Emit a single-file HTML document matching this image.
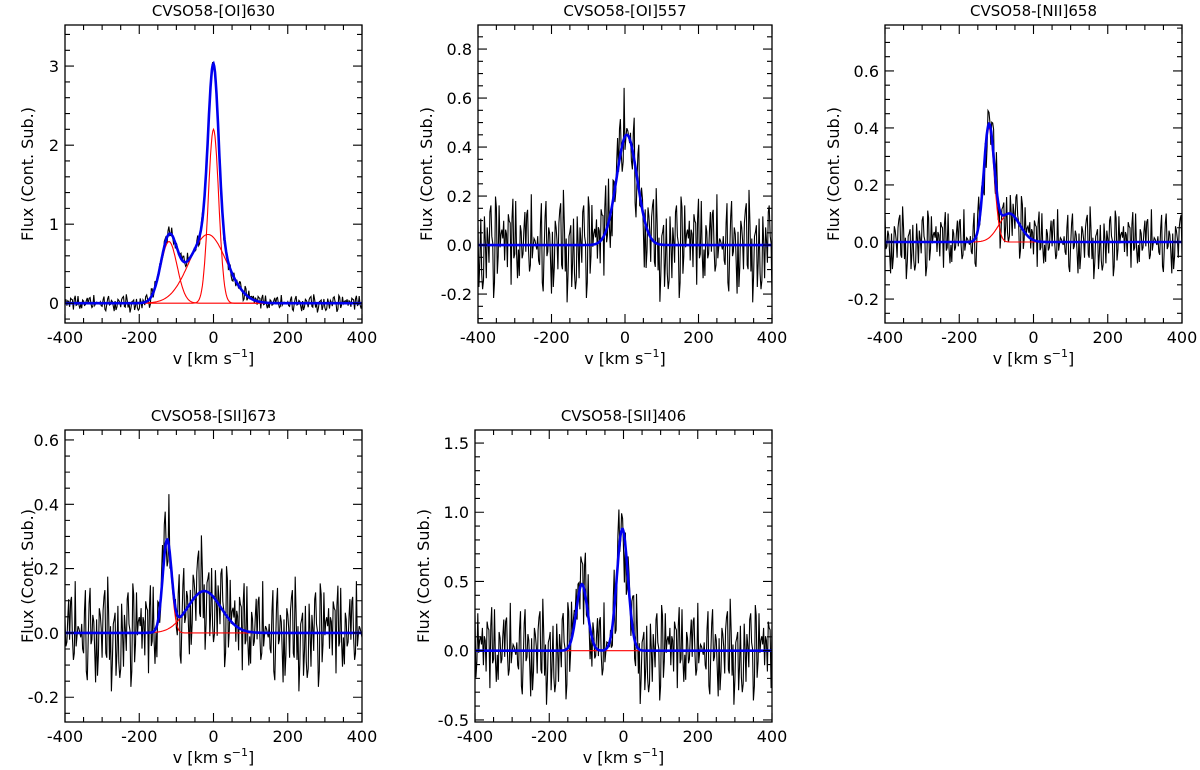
<!DOCTYPE html>
<html><head><meta charset="utf-8"><style>
body{margin:0;background:#fff;}
svg{display:block;font-family:"DejaVu Sans","Liberation Sans",sans-serif;}
</style></head><body>
<svg id="fig" width="1200" height="770" viewBox="0 0 1200 770" xmlns="http://www.w3.org/2000/svg"></svg>
<script>
// ---- data ----
const panelTitles = ["CVSO58-[OI]630","CVSO58-[OI]557","CVSO58-[NII]658","CVSO58-[SII]673","CVSO58-[SII]406"];
const yRanges = [[-0.25,3.52],[-0.318,0.898],[-0.284,0.761],[-0.277,0.631],[-0.515,1.594]];
const yTickLabels = [["0","1","2","3"],["-0.2","0.0","0.2","0.4","0.6","0.8"],["-0.2","0.0","0.2","0.4","0.6"],["-0.2","0.0","0.2","0.4","0.6"],["-0.5","0.0","0.5","1.0","1.5"]];
const yMinorStep = [0.2,0.05,0.05,0.05,0.1];
const xTickLabels = ["-400","-200","0","200","400"];
// gaussian components: amplitude, center (km/s), sigma (km/s)
const compAmp = [[0.78,0.87,2.2],[0.45],[0.40,0.10],[0.28,0.13],[0.48,0.88]];
const compCen = [[-120,-15,0],[5],[-120,-65],[-125,-25],[-112,-3]];
const compSig = [[22,50,14],[28],[14,28],[12,45],[15,15]];
const noiseLevel = [0.045,0.09,0.05,0.07,0.15];
const noise = [0.3,-1.2,0.8,1.5,-0.4,-2.1,0.6,1.1,-0.9,0.2,1.8,-1.5,-0.3,0.9,-0.7,2.3,-1.1,0.4,-0.2,1.3,
-1.9,0.7,-0.6,1.0,0.1,-1.4,2.0,-0.8,0.5,-0.1,1.6,-2.4,0.9,-0.5,1.2,-1.0,0.3,1.9,-1.7,0.6,
-0.3,-1.3,1.4,0.2,-0.9,2.2,-0.6,0.8,-2.0,1.1,0.0,-1.1,1.7,-0.4,0.5,-1.6,1.0,-0.2,2.5,-1.3,
0.7,-0.8,1.3,-1.8,0.4,0.9,-0.5,1.5,-2.2,0.1,1.2,-0.7,-1.2,1.8,-0.3,0.6,-1.5,2.1,-0.9,0.3,
-0.1,1.4,-1.9,0.8,-0.6,1.0,-2.6,0.5,1.6,-1.0,0.2,-0.4,1.9,-1.4,0.7,-0.2,1.1,-0.8,2.0,-1.7,0.4];
// ---- layout ----
const boxes = [[65,25,362,323],[478,25,772,323],[885,25,1182,323],[65,430,362,722],[475,430,772,722]];
const svg = document.getElementById('fig');
const NS = "http://www.w3.org/2000/svg";
function mk(tag, attrs, parent){const e=document.createElementNS(NS,tag);for(const k in attrs)e.setAttribute(k,attrs[k]);(parent||svg).appendChild(e);return e;}
function gauss(v,a,c,s){return a*Math.exp(-0.5*((v-c)/s)*((v-c)/s));}

boxes.forEach((b,p)=>{
  const [x0,y0,x1,y1]=b;
  const [ymin,ymax]=yRanges[p];
  const X=v=>x0+(v+400)/800*(x1-x0);
  const Y=f=>y1-(f-ymin)/(ymax-ymin)*(y1-y0);
  const g=mk('g',{});
  
  
  const clipId='c'+p;
  const cp=mk('clipPath',{id:clipId},g);mk('rect',{x:x0,y:y0,width:x1-x0,height:y1-y0},cp);
  const t=mk('text',{x:(x0+x1)/2,y:y0-9,'text-anchor':'middle','font-size':15},g);t.textContent=panelTitles[p];
  
  const comps=compAmp[p].length;
  const model=v=>{let s=0;for(let k=0;k<comps;k++)s+=gauss(v,compAmp[p][k],compCen[p][k],compSig[p][k]);return s;};
  let d='';let i=0;
  for(let v=-400;v<=400;v+=2.5,i++){
    const n=noise[(i*7+p*13)%noise.length]*noiseLevel[p];
    d+=(i?'L':'M')+X(v).toFixed(1)+' '+Y(model(v)+n).toFixed(1);
  }
  const dl=mk('path',{d:d,fill:'none',stroke:'#000','stroke-width':1.1,'clip-path':'url(#'+clipId+')'},g);
  
  for(let k=0;k<comps;k++){
    let dc='';
    for(let v=-400;v<=400;v+=2)dc+=(v===-400?'M':'L')+X(v).toFixed(1)+' '+Y(gauss(v,compAmp[p][k],compCen[p][k],compSig[p][k])).toFixed(1);
    const c=mk('path',{d:dc,fill:'none',stroke:'#f00','stroke-width':1.1,'clip-path':'url(#'+clipId+')'},g);
    
  }
  let dm='';
  for(let v=-400;v<=400;v+=2)dm+=(v===-400?'M':'L')+X(v).toFixed(1)+' '+Y(model(v)).toFixed(1);
  const m=mk('path',{d:dm,fill:'none',stroke:'#0000ee','stroke-width':2.6,'clip-path':'url(#'+clipId+')'},g);
  
  const fr=mk('rect',{x:x0,y:y0,width:x1-x0,height:y1-y0,fill:'none',stroke:'#000','stroke-width':1.3},g);
  
  let tk='';
  for(let v=-400;v<=400;v+=50){const L=(v%200===0)?9:5;const xx=X(v);tk+=`M${xx} ${y1}v${-L}M${xx} ${y0}v${L}`;}
  const yl=yTickLabels[p].map(Number);
  const st=yMinorStep[p];
  for(let f=Math.ceil(ymin/st)*st;f<=ymax+1e-9;f+=st){
    const major=yl.some(q=>Math.abs(q-f)<1e-6);const L=major?9:5;const yy=Y(f);
    tk+=`M${x0} ${yy}h${L}M${x1} ${yy}h${-L}`;
  }
  mk('path',{d:tk,stroke:'#000','stroke-width':1.1,fill:'none'},g);
  xTickLabels.forEach(s=>{const e=mk('text',{x:X(+s),y:y1+20,'text-anchor':'middle','font-size':16},g);e.textContent=s;
    });
  yTickLabels[p].forEach(s=>{const e=mk('text',{x:x0-6,y:Y(+s)+6,'text-anchor':'end','font-size':16},g);e.textContent=s;
    });
  const xt=mk('text',{x:(x0+x1)/2,y:y1+41,'text-anchor':'middle','font-size':16},g);
  xt.innerHTML='v [km s<tspan dy="-7" font-size="11">−1</tspan><tspan dy="7">]</tspan>';
  
  const ytx=(p===0||p===3)?x0-32:x0-46;
  const yt=mk('text',{x:ytx,y:(y0+y1)/2,'text-anchor':'middle','font-size':16,transform:`rotate(-90 ${ytx} ${(y0+y1)/2})`},g);
  yt.textContent='Flux (Cont. Sub.)';
  
});
</script>
</body></html>
